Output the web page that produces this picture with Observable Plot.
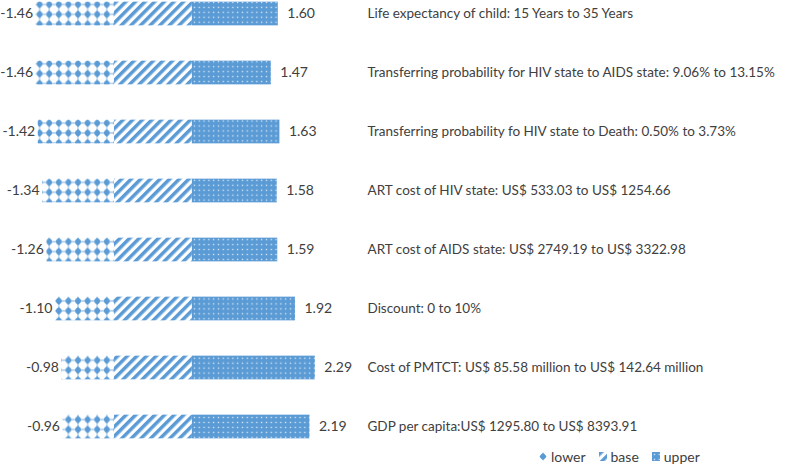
<!DOCTYPE html>
<html>
<head>
<meta charset="utf-8">
<script src="https://cdn.jsdelivr.net/npm/d3@7"></script>
<script src="https://cdn.jsdelivr.net/npm/@observablehq/plot@0.6"></script>
<style>
  html, body { margin: 0; padding: 0; background: #ffffff; }
  body { font-family: Lato, "Liberation Sans", sans-serif; color: #404040; width: 797px; height: 465px; overflow: hidden; }
  #legend { display: flex; align-items: center; height: 21px; padding-left: 539px; font-size: 14px; color: #404040; }
  #legend .item { display: flex; align-items: center; margin-right: 13px; }
  #legend svg { margin-right: 4px; }
</style>
</head>
<body>
<svg width="0" height="0" style="position:absolute">
  <defs>
    <pattern id="pLower" patternUnits="userSpaceOnUse" x="6" y="-0.4" width="9.6" height="9.8833">
      <rect width="9.6" height="9.8833" fill="#ffffff"/>
      <line x1="0" x2="9.6" y1="4.9" y2="4.9" stroke="#5B9BD5" stroke-width="0.8"/>
      <line x1="4.8" x2="4.8" y1="0" y2="9.8833" stroke="#5B9BD5" stroke-width="0.6"/>
      <polygon points="4.8,0.6 7.6,4.9 4.8,9.2 2.0,4.9" fill="#5B9BD5"/>
      <circle cx="4.8" cy="4.9" r="2.8" fill="#5B9BD5"/>
    </pattern>
    <pattern id="pBase" patternUnits="userSpaceOnUse" width="6.8" height="6.8" patternTransform="rotate(45)">
      <rect width="6.8" height="6.8" fill="#ffffff"/>
      <rect width="3.5" height="6.8" fill="#5B9BD5"/>
    </pattern>
    <pattern id="pUpper" patternUnits="userSpaceOnUse" width="4.8" height="4.9417">
      <rect width="4.8" height="4.9417" fill="#5B9BD5"/>
      <rect x="1.8" y="1.8" width="1.3" height="1.3" fill="#ffffff" fill-opacity="0.8"/>
    </pattern>
  </defs>
</svg>
<div id="chart"></div>
<div id="legend"></div>
<script>
// Parameters (rows, top to bottom)
const parameters = [
  "Life expectancy of child: 15 Years to 35 Years",
  "Transferring probability for HIV state to AIDS state: 9.06% to 13.15%",
  "Transferring probability fo HIV state to Death: 0.50% to 3.73%",
  "ART cost of HIV state: US$ 533.03 to US$ 1254.66",
  "ART cost of AIDS state: US$ 2749.19 to US$ 3322.98",
  "Discount: 0 to 10%",
  "Cost of PMTCT: US$ 85.58 million to US$ 142.64 million",
  "GDP per capita:US$ 1295.80 to US$ 8393.91"
];
const lowerValues = [-1.46, -1.46, -1.42, -1.34, -1.26, -1.10, -0.98, -0.96];
const baseValues  = [1.45, 1.45, 1.45, 1.45, 1.45, 1.45, 1.45, 1.45];
const upperValues = [1.60, 1.47, 1.63, 1.58, 1.59, 1.92, 2.29, 2.19];
const seriesNames = ["lower", "base", "upper"];

const data = parameters.map((p, i) => ({
  p, lower: lowerValues[i], base: baseValues[i], upper: upperValues[i]
}));

const textColor = "#404040";
const barOpts = { y: "p", insetTop: 17.65, insetBottom: 17.65 };

const chart = Plot.plot({
  width: 797,
  height: 446,
  marginLeft: 0,
  marginRight: 430,
  marginTop: 0,
  marginBottom: 0,
  x: { domain: [-2.123, 4.711], axis: null },
  y: { type: "band", domain: parameters, range: [-17.65, 456.75], padding: 0, axis: null },
  style: { fontFamily: "Lato, 'Liberation Sans', sans-serif", fontSize: "14px", color: textColor, background: "transparent" },
  marks: [
    Plot.barX(data, { ...barOpts, x1: d => d.lower, x2: d => 0, fill: "url(#pLower)" }),
    Plot.barX(data, { ...barOpts, x1: d => 0, x2: d => d.base, fill: "url(#pBase)" }),
    Plot.barX(data, { ...barOpts, x1: d => d.base, x2: d => d.base + d.upper, fill: "url(#pUpper)" }),
    Plot.text(data, { x: d => d.lower, y: "p", text: d => d.lower.toFixed(2), textAnchor: "end", dx: -3, fill: textColor, fontSize: 14 }),
    Plot.text(data, { x: d => d.base + d.upper, y: "p", text: d => d.upper.toFixed(2), textAnchor: "start", dx: 9, fill: textColor, fontSize: 14 }),
    Plot.axisY({ anchor: "right", tickSize: 0, tickPadding: 0, textAnchor: "start", label: null, fill: textColor, fontSize: 13.5 })
  ]
});
document.getElementById("chart").appendChild(chart);

// Legend
const swatches = {
  lower: '<svg width="8" height="9"><polygon points="4,0.5 7.5,4.5 4,8.5 0.5,4.5" fill="#5B9BD5"/><circle cx="4" cy="4.5" r="2.6" fill="#5B9BD5"/></svg>',
  base: '<svg width="8" height="9"><rect width="8" height="9" fill="url(#pBase)"/></svg>',
  upper: '<svg width="8" height="9"><rect width="8" height="9" fill="url(#pUpper)"/></svg>'
};
const legend = document.getElementById("legend");
seriesNames.forEach(name => {
  const item = document.createElement("span");
  item.className = "item";
  item.innerHTML = swatches[name] + "<span>" + name + "</span>";
  legend.appendChild(item);
});
</script>
</body>
</html>
